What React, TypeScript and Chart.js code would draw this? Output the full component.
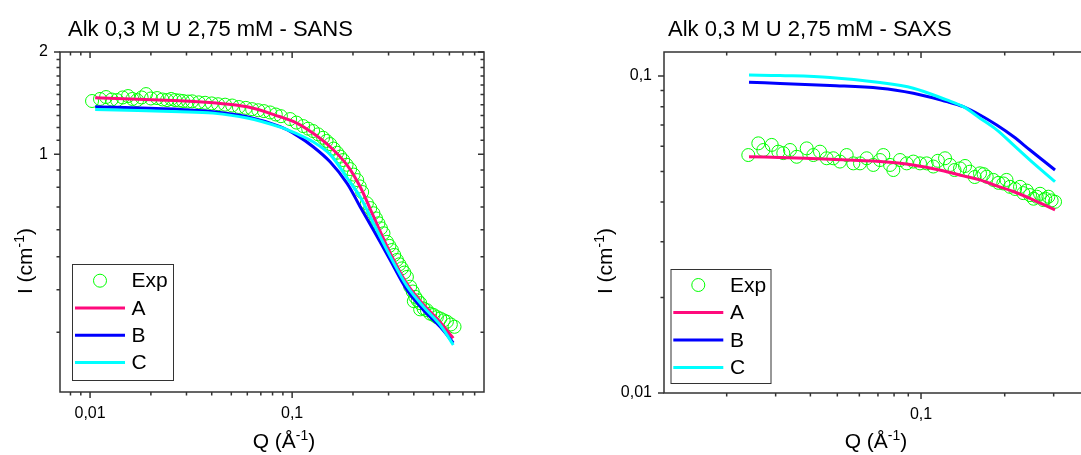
import React, { useEffect, useRef } from 'react';
import { Chart, registerables } from 'chart.js';

Chart.register(...registerables);

const FONT = '"Liberation Sans", Arial, Helvetica, sans-serif';

// ---------- SANS panel data ----------
const sansTitle = 'Alk 0,3 M U 2,75 mM - SANS';
const sansExpQ = [
  0.01023, 0.0112, 0.012, 0.0128, 0.0136, 0.0145, 0.01542, 0.0162, 0.01709, 0.018,
  0.01893, 0.02, 0.02147, 0.0228, 0.02405, 0.0252, 0.02636, 0.0276, 0.02886, 0.0305,
  0.03199, 0.0345, 0.03709, 0.04, 0.043, 0.04659, 0.0505, 0.0545, 0.059, 0.06339,
  0.068, 0.0725, 0.0778, 0.083, 0.088, 0.09772, 0.105, 0.1134, 0.12, 0.127,
  0.1345, 0.1423, 0.148, 0.1542, 0.1605, 0.167, 0.173, 0.1789, 0.186, 0.1937,
  0.2015, 0.2098, 0.216, 0.2221, 0.2343, 0.2435, 0.2526, 0.26, 0.2674, 0.275,
  0.2831, 0.2943, 0.303, 0.3116, 0.32, 0.3298, 0.3395, 0.3491, 0.359, 0.3697,
  0.3839, 0.395, 0.4, 0.4064, 0.418, 0.43, 0.4302, 0.447, 0.4644, 0.482,
  0.5006, 0.52, 0.5404, 0.562, 0.5832, 0.61, 0.6362,
];
const sansExpI = [
  1.435, 1.455, 1.474, 1.45, 1.444, 1.47, 1.484, 1.455, 1.444, 1.47,
  1.504, 1.46, 1.464, 1.45, 1.444, 1.455, 1.444, 1.44, 1.435, 1.43,
  1.432, 1.422, 1.418, 1.412, 1.404, 1.4, 1.392, 1.378, 1.37, 1.358,
  1.348, 1.34, 1.328, 1.31, 1.295, 1.27, 1.24, 1.211, 1.19, 1.171,
  1.145, 1.119, 1.095, 1.072, 1.04, 1.011, 0.985, 0.962, 0.932, 0.905,
  0.872, 0.84, 0.805, 0.775, 0.718, 0.695, 0.671, 0.648, 0.627, 0.606,
  0.586, 0.553, 0.538, 0.523, 0.506, 0.489, 0.475, 0.462, 0.449, 0.436,
  0.408, 0.395, 0.37, 0.381, 0.372, 0.35, 0.365, 0.352, 0.348, 0.34,
  0.337, 0.332, 0.329, 0.325, 0.322, 0.316, 0.311,
];
const sansFitQ = [0.0106, 0.0279, 0.0406, 0.0599, 0.0872, 0.106, 0.127, 0.154, 0.187, 0.217, 0.252, 0.3055, 0.37, 0.447, 0.54, 0.627];
const sansA = [1.467, 1.438, 1.418, 1.38, 1.29, 1.234, 1.153, 1.053, 0.93, 0.803, 0.659, 0.513, 0.416, 0.361, 0.321, 0.288];
const sansB = [1.38, 1.356, 1.335, 1.29, 1.206, 1.135, 1.053, 0.951, 0.822, 0.701, 0.6, 0.489, 0.399, 0.348, 0.311, 0.279];
const sansC = [1.356, 1.335, 1.322, 1.279, 1.203, 1.148, 1.089, 1.0, 0.852, 0.75, 0.629, 0.502, 0.41, 0.356, 0.315, 0.275];
const sansXMajor = [0.01, 0.1];
const sansXMinor = [0.008, 0.009, 0.02, 0.03, 0.04, 0.05, 0.06, 0.07, 0.08, 0.09, 0.2, 0.3, 0.4, 0.5, 0.6, 0.7, 0.8];
const sansYMajor = [1, 2];
const sansYMinor = [0.3, 0.4, 0.5, 0.6, 0.7, 0.8, 0.9, 1.1, 1.2, 1.3, 1.4, 1.5, 1.6, 1.7, 1.8, 1.9];

// ---------- SAXS panel data ----------
const saxsTitle = 'Alk 0,3 M U 2,75 mM - SAXS';
const saxsExpQ = [
  0.02392, 0.02599, 0.02709, 0.02904, 0.03067, 0.03196, 0.03379, 0.03571, 0.0388, 0.04099,
  0.04332, 0.04578, 0.04835, 0.05111, 0.05403, 0.05708, 0.06034, 0.06378, 0.06736, 0.07118,
  0.07318, 0.07736, 0.07952, 0.08404, 0.08884, 0.09383, 0.09917, 0.1048, 0.1107, 0.115,
  0.122, 0.1271, 0.132, 0.1381, 0.144, 0.15, 0.156, 0.163, 0.168, 0.1723,
  0.182, 0.19, 0.1977, 0.203, 0.209, 0.218, 0.227, 0.2333, 0.24, 0.2466,
  0.254, 0.2607, 0.268, 0.2754, 0.28, 0.2871, 0.295, 0.3034,
];
const saxsExpI = [
  0.0563, 0.0613, 0.0584, 0.0606, 0.0577, 0.0571, 0.0584, 0.0556, 0.0591, 0.0563,
  0.0577, 0.055, 0.055, 0.0537, 0.0563, 0.053, 0.053, 0.055, 0.0524, 0.0543,
  0.0563, 0.0524, 0.0505, 0.0543, 0.053, 0.0537, 0.053, 0.053, 0.0518, 0.054,
  0.055, 0.0524, 0.0505, 0.0511, 0.052, 0.0499, 0.048, 0.0493, 0.049, 0.0481,
  0.047, 0.046, 0.0458, 0.047, 0.0447, 0.044, 0.0447, 0.0427, 0.0435, 0.0421,
  0.041, 0.0416, 0.0425, 0.0406, 0.041, 0.0416, 0.0405, 0.0401,
];
const saxsFitQ = [0.02406, 0.03111, 0.04708, 0.07119, 0.09383, 0.1237, 0.1419, 0.163, 0.1872, 0.2148, 0.2466, 0.3034];
const saxsA = [0.0556, 0.0553, 0.0546, 0.0537, 0.0524, 0.0499, 0.0484, 0.047, 0.045, 0.0432, 0.0411, 0.0378];
const saxsB = [0.0955, 0.0947, 0.0933, 0.0915, 0.0882, 0.083, 0.08, 0.0753, 0.07, 0.0644, 0.0584, 0.0505];
const saxsC = [0.1007, 0.1003, 0.0989, 0.0953, 0.0915, 0.084, 0.08, 0.0736, 0.0676, 0.0606, 0.0543, 0.0464];
const saxsXMajor = [0.1];
const saxsXMinor = [0.02, 0.03, 0.04, 0.05, 0.06, 0.07, 0.08, 0.09, 0.2, 0.3];
const saxsYMajor = [0.01, 0.1];
const saxsYMinor = [0.02, 0.03, 0.04, 0.05, 0.06, 0.07, 0.08, 0.09];

const seriesNames = ['Exp', 'A', 'B', 'C'];
const seriesColors = ['#00ff00', '#ff0a7c', '#0000ff', '#00ffff'];

const xTitleParts: [string, boolean][] = [['Q (Å', false], ['-1', true], [')', false]];
const yTitleParts: [string, boolean][] = [['I (cm', false], ['-1', true], [')', false]];

const fmt = (v: number) => String(v).replace('.', ',');

function drawRich(ctx: CanvasRenderingContext2D, parts: [string, boolean][], cx: number, cy: number, size: number, rotate: boolean) {
  ctx.save();
  ctx.translate(cx, cy);
  if (rotate) ctx.rotate(-Math.PI / 2);
  ctx.fillStyle = '#000';
  ctx.textBaseline = 'alphabetic';
  ctx.textAlign = 'left';
  const mainF = `${size}px ${FONT}`;
  const supF = `${Math.round(size * 0.65)}px ${FONT}`;
  const widths = parts.map(([t, s]) => {
    ctx.font = s ? supF : mainF;
    return ctx.measureText(t).width;
  });
  const total = widths.reduce((a, b) => a + b, 0);
  let x = -total / 2;
  const base = size * 0.35;
  parts.forEach(([t, s], i) => {
    ctx.font = s ? supF : mainF;
    ctx.fillText(t, x, s ? base - size * 0.4 : base);
    x += widths[i];
  });
  ctx.restore();
}

const decorPlugin = {
  id: 'decor',
  afterDraw(chart: any, _args: any, o: any) {
    const ctx: CanvasRenderingContext2D = chart.ctx;
    const { left, right, top, bottom } = chart.chartArea;
    const xs = chart.scales.x;
    const ys = chart.scales.y;
    ctx.save();
    ctx.strokeStyle = '#333';
    ctx.lineWidth = 1.5;
    ctx.strokeRect(left, top, right - left, bottom - top);
    const tick = (vals: number[], len: number) => {
      vals.forEach((v) => {
        const px = xs.getPixelForValue(v);
        ctx.beginPath();
        ctx.moveTo(px, bottom); ctx.lineTo(px, bottom + len);
        ctx.moveTo(px, top); ctx.lineTo(px, top + len);
        ctx.stroke();
      });
    };
    const ytick = (vals: number[], len: number) => {
      vals.forEach((v) => {
        const py = ys.getPixelForValue(v);
        ctx.beginPath();
        ctx.moveTo(left, py); ctx.lineTo(left - len, py);
        ctx.moveTo(right, py); ctx.lineTo(right - len, py);
        ctx.stroke();
      });
    };
    tick(o.xMajor, 6);
    tick(o.xMinor, 3.5);
    ytick(o.yMajor, 6);
    ytick(o.yMinor, 3.5);

    // title
    ctx.fillStyle = '#000';
    ctx.font = `${o.titleSize}px ${FONT}`;
    ctx.textAlign = 'left';
    ctx.textBaseline = 'middle';
    ctx.fillText(o.title, o.titleX, o.titleY);

    drawRich(ctx, xTitleParts, o.xTitleX, o.xTitleY, o.axisTitleSize, false);
    drawRich(ctx, yTitleParts, o.yTitleX, o.yTitleY, o.axisTitleSize, true);

    // legend
    const L = o.legend;
    ctx.fillStyle = '#fff';
    ctx.fillRect(L.x, L.y, L.w, L.h);
    ctx.strokeStyle = '#333';
    ctx.lineWidth = 1;
    ctx.strokeRect(L.x + 0.5, L.y + 0.5, L.w, L.h);
    seriesNames.forEach((name, i) => {
      const ry = L.y + L.first + i * L.step;
      if (i === 0) {
        ctx.strokeStyle = seriesColors[0];
        ctx.lineWidth = 1;
        ctx.beginPath();
        ctx.arc(L.cx, ry, 6.5, 0, Math.PI * 2);
        ctx.stroke();
      } else {
        ctx.strokeStyle = seriesColors[i];
        ctx.lineWidth = 3;
        ctx.beginPath();
        ctx.moveTo(L.l0, ry);
        ctx.lineTo(L.l1, ry);
        ctx.stroke();
      }
      ctx.fillStyle = '#000';
      ctx.font = `${o.legendSize}px ${FONT}`;
      ctx.textAlign = 'left';
      ctx.textBaseline = 'middle';
      ctx.fillText(name, L.tx, ry + 1);
    });
    ctx.restore();
  },
};

function pts(q: number[], v: number[]) {
  return q.map((x, i) => ({ x, y: v[i] }));
}

function buildConfig(s: any): any {
  const lineDs = (label: string, data: any, color: string, order: number) => ({
    label, data, showLine: true, borderColor: color, backgroundColor: color,
    borderWidth: 3, pointRadius: 0, tension: 0.35, fill: false, order,
  });
  return {
    type: 'scatter',
    data: {
      datasets: [
        {
          label: 'Exp', data: pts(s.expQ, s.expI), showLine: false, pointRadius: 6.5,
          pointBorderWidth: 1, pointBorderColor: seriesColors[0], pointBackgroundColor: 'rgba(0,0,0,0)', order: 4,
        },
        lineDs('A', pts(s.fitQ, s.A), seriesColors[1], 3),
        lineDs('B', pts(s.fitQ, s.B), seriesColors[2], 2),
        lineDs('C', pts(s.fitQ, s.C), seriesColors[3], 1),
      ],
    },
    options: {
      animation: false,
      responsive: false,
      devicePixelRatio: 1,
      layout: { padding: { left: 0, top: s.top, right: s.padRight, bottom: 0 } },
      plugins: {
        legend: { display: false },
        title: { display: false },
        tooltip: { enabled: false },
        decor: s.decor,
      },
      scales: {
        x: {
          type: 'logarithmic', position: 'bottom', min: s.xMin, max: s.xMax, bounds: 'data',
          grid: { display: false, drawTicks: false }, border: { display: false },
          ticks: { font: { family: FONT, size: 16 }, color: '#000', padding: 12, autoSkip: false, maxRotation: 0, callback: (v: number) => fmt(v) },
          afterBuildTicks: (sc: any) => { sc.ticks = s.decor.xMajor.map((v: number) => ({ value: v })); },
          afterFit: (sc: any) => { sc.height = s.xHeight; },
        },
        y: {
          type: 'logarithmic', position: 'left', min: s.yMin, max: s.yMax, bounds: 'data',
          grid: { display: false, drawTicks: false }, border: { display: false },
          ticks: { font: { family: FONT, size: 16 }, color: '#000', padding: 12, autoSkip: false, callback: (v: number) => fmt(v) },
          afterBuildTicks: (sc: any) => { sc.ticks = s.decor.yMajor.map((v: number) => ({ value: v })); },
          afterFit: (sc: any) => { sc.width = s.yWidth; },
        },
      },
    },
    plugins: [decorPlugin],
  };
}

const sansSpec = {
  expQ: sansExpQ, expI: sansExpI, fitQ: sansFitQ, A: sansA, B: sansB, C: sansC,
  xMin: 0.0071, xMax: 0.89, yMin: 0.2, yMax: 2,
  top: 52, padRight: 56, xHeight: 63, yWidth: 60,
  decor: {
    xMajor: sansXMajor, xMinor: sansXMinor, yMajor: sansYMajor, yMinor: sansYMinor,
    title: sansTitle, titleX: 68, titleY: 30, titleSize: 22,
    xTitleX: 284, xTitleY: 441, yTitleX: 25, yTitleY: 261, axisTitleSize: 21,
    legendSize: 21,
    legend: { x: 72, y: 264, w: 101, h: 116, first: 16.7, step: 27.3, cx: 100, l0: 75, l1: 125, tx: 131.5 },
  },
};

const saxsLeft = 580;
const saxsSpec = {
  expQ: saxsExpQ, expI: saxsExpI, fitQ: saxsFitQ, A: saxsA, B: saxsB, C: saxsC,
  xMin: 0.0119, xMax: 0.4, yMin: 0.01, yMax: 0.119,
  top: 52, padRight: 11.6, xHeight: 62, yWidth: 84,
  decor: {
    xMajor: saxsXMajor, xMinor: saxsXMinor, yMajor: saxsYMajor, yMinor: saxsYMinor,
    title: saxsTitle, titleX: 668 - saxsLeft, titleY: 30, titleSize: 22,
    xTitleX: 876 - saxsLeft, xTitleY: 441, yTitleX: 605 - saxsLeft, yTitleY: 261, axisTitleSize: 21,
    legendSize: 21,
    legend: { x: 670.5 - saxsLeft, y: 269, w: 100, h: 114, first: 16, step: 27.5, cx: 698.3 - saxsLeft, l0: 673.3 - saxsLeft, l1: 723.3 - saxsLeft, tx: 730 - saxsLeft },
  },
};

function Panel({ left, width, spec }: { left: number; width: number; spec: any }) {
  const ref = useRef<HTMLCanvasElement>(null);
  useEffect(() => {
    const chart = new Chart(ref.current as HTMLCanvasElement, buildConfig(spec));
    return () => chart.destroy();
  }, [spec]);
  return (
    <canvas
      ref={ref}
      width={width}
      height={455}
      style={{ position: 'absolute', left, top: 0, width, height: 455 }}
    />
  );
}

export default function App() {
  return (
    <div style={{ position: 'fixed', left: 0, top: 0, width: 1081, height: 455, overflow: 'hidden', background: '#fff' }}>
      <Panel left={0} width={540} spec={sansSpec} />
      <Panel left={saxsLeft} width={520} spec={saxsSpec} />
    </div>
  );
}
